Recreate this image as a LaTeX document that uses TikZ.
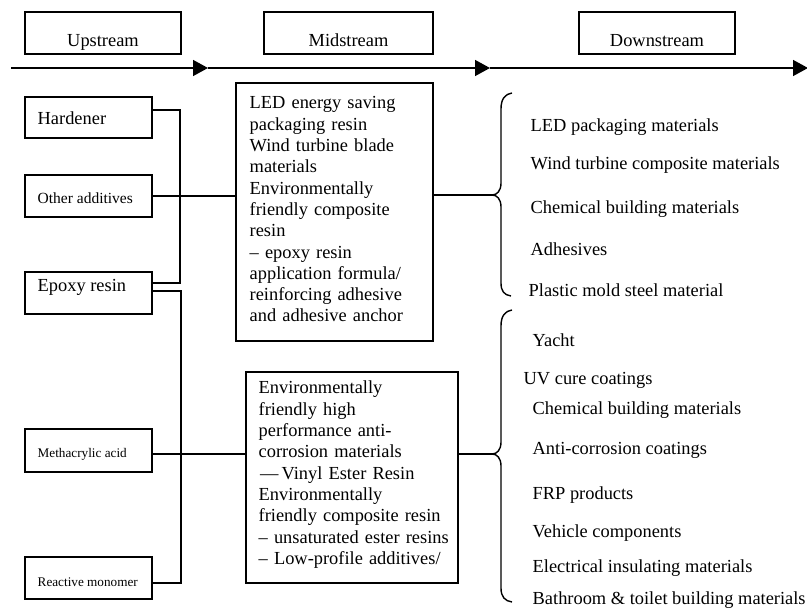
\documentclass[tikz,border=0pt]{standalone}
\usepackage{fontspec}
\setmainfont{Liberation Serif}
\usetikzlibrary{arrows.meta}

\begin{document}
\begin{tikzpicture}[x=1pt,y=-1pt,
  line width=1.4pt,
  bodyfont/.style={font=\fontsize{18.4}{21.3}\selectfont},
  midfont/.style={font=\fontsize{15.5}{18}\selectfont},
  smallfont/.style={font=\fontsize{13.2}{15}\selectfont},
  framebox/.style={draw, line width=1.4pt, inner sep=0pt, rectangle},
  label/.style={inner sep=0pt, anchor=base west},
  headlabel/.style={bodyfont, inner sep=0pt, anchor=base},
  flow/.style={line width=1.5pt, -{Triangle[length=15pt,width=16pt]}},
  link/.style={line width=1.4pt},
  brace/.style={line width=1.4pt},
  blocktext/.style={bodyfont, inner sep=0pt, anchor=base west, text width=#1, align=left}
]
\useasboundingbox (0,0) rectangle (807,609);

% ---- stage headers ----
\node[framebox, minimum width=156pt, minimum height=42pt] (hup)   at (103,33) {};
\node[framebox, minimum width=169pt, minimum height=42pt] (hmid)  at (348.5,33) {};
\node[framebox, minimum width=156pt, minimum height=42pt] (hdown) at (657,33) {};
\node[headlabel] (tup)   at (103,46.7)   {Upstream};
\node[headlabel] (tmid)  at (348.5,46.7) {Midstream};
\node[headlabel] (tdown) at (657,46.7)   {Downstream};

% ---- main flow arrow ----
\coordinate (f0) at (11,68);
\coordinate (f1) at (208,68);
\coordinate (f2) at (490,68);
\coordinate (f3) at (808,68);
\draw[flow] (f0) -- (f1);
\draw[flow] (f1) -- (f2);
\draw[flow] (f2) -- (f3);

% ---- upstream raw materials ----
\node[framebox, minimum width=127pt, minimum height=41pt] (hard)  at (88.5,117.5) {};
\node[framebox, minimum width=127pt, minimum height=42pt] (other) at (88.5,196) {};
\node[framebox, minimum width=127pt, minimum height=42pt] (epoxy) at (88.5,293) {};
\node[framebox, minimum width=127pt, minimum height=43pt] (meth)  at (88.5,450.5) {};
\node[framebox, minimum width=127pt, minimum height=42pt] (react) at (88.5,578) {};
\node[label, bodyfont]  (thard)  at (37,125)   {Hardener};
\node[label, midfont]   (tother) at (37,203.5) {Other additives};
\node[label, bodyfont]  (tepoxy) at (37,292)   {Epoxy resin};
\node[label, smallfont] (tmeth)  at (37,458)   {Methacrylic acid};
\node[label, smallfont] (treact) at (37,587)   {Reactive monomer};

% ---- midstream products ----
\node[framebox, minimum width=197pt, minimum height=258pt] (mid1) at (334.5,212) {};
\node[framebox, minimum width=212pt, minimum height=211pt] (mid2) at (352,477.5) {};
\node[blocktext=180pt] (tmid1) at (249,109) {LED energy saving\\
packaging resin\\
Wind turbine blade\\
materials\\
Environmentally\\
friendly composite\\
resin\\
– epoxy resin\\
application formula/\\
reinforcing adhesive\\
and adhesive anchor};
\node[blocktext=196pt] (tmid2) at (258,394) {Environmentally\\
friendly high\\
performance anti-\\
corrosion materials\\
\hspace{1.5pt}—\,Vinyl Ester Resin\\
Environmentally\\
friendly composite resin\\
– unsaturated ester resins\\
– Low-profile additives/};

% ---- bus lines ----
\coordinate (b1t) at (180,110);
\coordinate (b1b) at (180,283);
\coordinate (b2t) at (181,291);
\coordinate (b2b) at (181,583);
\coordinate (tipA) at (492,195);
\coordinate (tipB) at (492,454);

\draw[link] (hard.east |- b1t) -- (b1t) -- (b1b) -- (epoxy.east |- b1b);
\draw[link] (other.east) -- (mid1.west |- other.east);
\draw[link] (epoxy.east |- b2t) -- (b2t) -- (b2b) -- (react.east |- b2b);
\draw[link] (meth.east |- tipB) -- (mid2.west |- tipB);
\draw[link] (mid1.east |- tipA) -- (tipA);
\draw[link] (mid2.east |- tipB) -- (tipB);

% ---- braces ----
\draw[brace] (512,93) .. controls (505,94) and (501,99) .. (501,109)
  -- (501,183) .. controls (501,191) and (497,195) .. (tipA)
  .. controls (497,195) and (501,199) .. (501,207)
  -- (501,283) .. controls (501,291) and (504,295) .. (511,296);
\draw[brace] (512,310) .. controls (505,311) and (501,316) .. (501,326)
  -- (501,442) .. controls (501,450) and (497,454) .. (tipB)
  .. controls (497,454) and (501,458) .. (501,466)
  -- (501,588) .. controls (501,597) and (505,601) .. (512,602);

% ---- downstream applications ----
\node[label, bodyfont] (d1) at (530,132) {LED packaging materials};
\node[label, bodyfont] (d2) at (530,170) {Wind turbine composite materials};
\node[label, bodyfont] (d3) at (530,214) {Chemical building materials};
\node[label, bodyfont] (d4) at (530,256) {Adhesives};
\node[label, bodyfont] (d5) at (528,297) {Plastic mold steel material};

\node[label, bodyfont] (e1) at (532,347) {Yacht};
\node[label, bodyfont] (e2) at (523,385) {UV cure coatings};
\node[label, bodyfont] (e3) at (532,415) {Chemical building materials};
\node[label, bodyfont] (e4) at (532,455) {Anti-corrosion coatings};
\node[label, bodyfont] (e5) at (532,500) {FRP products};
\node[label, bodyfont] (e6) at (532,538) {Vehicle components};
\node[label, bodyfont] (e7) at (532,573) {Electrical insulating materials};
\node[label, bodyfont] (e8) at (532,605) {Bathroom \& toilet building materials};
\end{tikzpicture}
\end{document}
